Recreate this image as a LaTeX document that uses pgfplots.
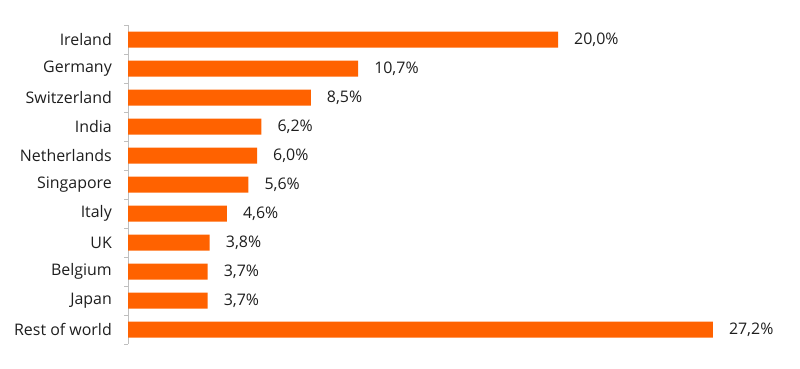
\documentclass[border=0pt]{standalone}
\usepackage{pgfplots}
\pgfplotsset{compat=1.18}
\usepackage{fontspec}
\setmainfont{Open Sans}
\definecolor{ingorange}{HTML}{FF6200}
\definecolor{txt}{HTML}{1E1E1E}
\definecolor{axgray}{HTML}{BFBFBF}
\begin{document}
\begin{tikzpicture}[x=1bp,y=1bp]
\path[use as bounding box] (0,0) rectangle (800,368);
\begin{axis}[
 at={(128bp,24bp)}, anchor=south west,
 scale only axis, width=645bp, height=319bp,
 xbar, bar width=16bp, bar shift=0pt,
 xmin=0, xmax=30, ymin=-0.5, ymax=10.5, y dir=reverse,
 hide x axis, axis y line=left, axis line style={axgray, -},
 ytick={0,...,10},
 yticklabels={Ireland,Germany,Switzerland,India,Netherlands,Singapore,Italy,UK,Belgium,Japan,Rest of world},
 major tick length=0pt,
 minor ytick={-0.5,0.5,...,10.5}, minor tick length=4bp, tick align=outside,
 minor tick style={axgray},
 yticklabel style={font=\fontsize{16}{18}\selectfont, text=txt, inner sep=0pt, xshift=-16bp},
 nodes near coords, point meta=explicit symbolic,
 nodes near coords style={anchor=west, inner sep=0pt, xshift=16bp, font=\fontsize{16}{18}\selectfont, text=txt},
 clip=false,
]
\addplot[fill=ingorange, draw=none] coordinates {
 (20.0,0) [20,0\%]
 (10.7,1) [10,7\%]
 (8.5,2) [8,5\%]
 (6.2,3) [6,2\%]
 (6.0,4) [6,0\%]
 (5.6,5) [5,6\%]
 (4.6,6) [4,6\%]
 (3.8,7) [3,8\%]
 (3.7,8) [3,7\%]
 (3.7,9) [3,7\%]
 (27.2,10) [27,2\%]
};
\end{axis}
\end{tikzpicture}
\end{document}
